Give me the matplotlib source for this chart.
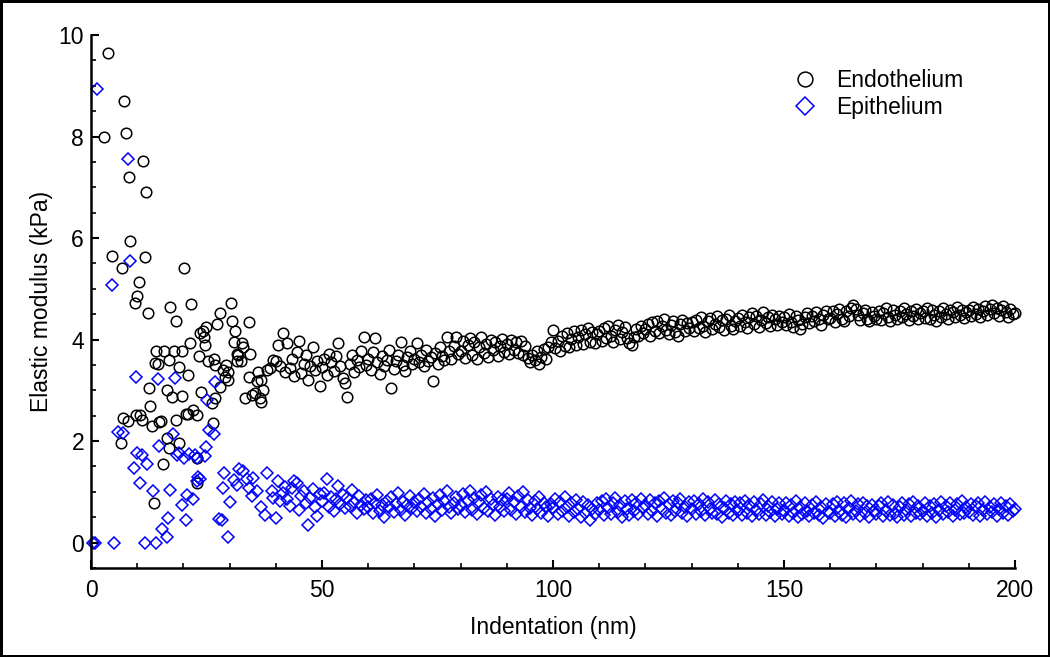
import numpy as np
import matplotlib
matplotlib.use("Agg")
import matplotlib.pyplot as plt
from matplotlib.ticker import MultipleLocator

# ---------------- data ----------------
# scattered low-indentation region, Endothelium (x nm, E kPa)
endo_x_low = [2.8, 3.7, 4.6, 6.4, 6.7, 6.9, 7.2, 7.6, 8.1, 8.2, 8.5, 9.5, 9.7, 10.0, 10.3,
              10.6, 11.0, 11.3, 11.6, 11.9, 12.3, 12.6, 12.8, 13.1, 13.6, 13.9, 14.1, 14.4,
              14.7, 15.1, 15.6, 15.8, 16.4, 16.4, 16.9, 16.9, 17.1, 17.5, 18.0, 18.3, 18.5,
              19.1, 19.1, 19.6, 19.8, 20.1, 20.6, 21.1, 21.1, 21.4, 21.6, 22.1, 22.9, 22.9,
              22.9, 23.3, 23.6, 23.8, 24.3, 24.5, 24.7, 24.9, 25.3, 26.1, 26.3, 26.7, 26.8,
              26.8, 27.3, 27.9, 27.9, 28.5, 28.9, 29.2, 29.7, 29.7, 30.3, 30.6, 31.0, 31.2,
              31.5, 31.7, 31.9, 32.5, 32.6, 33.0, 33.3, 34.1, 34.1, 34.4, 34.8, 35.5, 35.9,
              36.2, 36.6, 36.9, 36.9, 37.3, 38.0, 38.7, 39.5]
endo_y_low = [8.00, 9.65, 5.65, 1.97, 5.41, 2.45, 8.70, 8.07, 2.39, 7.20, 5.94, 4.73, 2.52, 4.85, 5.14,
              2.52, 2.41, 7.52, 5.63, 6.90, 4.53, 3.05, 2.70, 2.29, 0.78, 3.54, 3.77, 3.52,
              2.37, 2.39, 1.54, 3.77, 3.01, 2.06, 3.59, 1.86, 4.64, 2.87, 3.77, 4.37, 2.41,
              3.46, 1.97, 3.77, 2.88, 5.41, 2.54, 2.54, 3.31, 3.93, 4.70, 2.62, 2.52, 1.67,
              1.18, 3.67, 4.13, 2.97, 4.16, 4.06, 3.90, 4.24, 3.57, 2.76, 2.36, 3.62, 3.50,
              2.85, 4.31, 4.53, 3.06, 3.41, 3.27, 3.50, 3.37, 3.21, 4.73, 4.36, 3.96, 4.16,
              3.57, 3.72, 3.70, 3.57, 3.93, 3.86, 2.85, 4.34, 3.27, 3.72, 2.91, 2.95, 3.18,
              3.37, 2.85, 3.21, 2.78, 3.01, 3.41, 3.44, 3.60]

# scattered low-indentation region, Epithelium
epi_x_low = [0.4, 0.9, 1.4, 4.5, 5.0, 5.9, 6.9, 8.1, 8.4, 9.2, 9.7, 9.9, 10.6, 11.0, 11.7,
             12.2, 13.4, 14.1, 14.4, 14.8, 15.3, 16.4, 16.7, 17.1, 17.7, 18.2, 18.7, 19.1,
             19.6, 20.1, 20.6, 20.8, 21.3, 22.0, 22.5, 22.9, 23.0, 23.2, 23.7, 24.7, 24.9,
             25.0, 25.6, 26.7, 26.8, 27.8, 28.3, 28.5, 28.8, 29.7, 30.1, 31.0, 31.5, 32.1,
             33.0, 33.7, 34.3, 34.8, 35.1, 35.9, 36.9, 37.7, 38.2, 39.1, 39.3]
epi_y_low = [0.00, 0.00, 8.93, 5.07, 0.00, 2.17, 2.15, 7.55, 5.55, 1.47, 3.26, 1.77, 1.18, 1.73, 0.00,
             1.54, 1.01, 0.00, 3.22, 1.90, 0.27, 0.12, 0.49, 1.03, 2.13, 3.24, 1.73, 1.76,
             0.75, 1.67, 0.44, 0.94, 1.75, 0.86, 1.73, 1.21, 1.67, 1.29, 1.25, 1.70, 1.88,
             2.80, 2.21, 2.13, 3.16, 0.47, 0.44, 1.08, 1.38, 0.11, 0.81, 1.24, 1.14, 1.45,
             1.42, 1.25, 1.08, 0.91, 1.27, 1.01, 0.71, 0.55, 1.38, 1.01, 0.88]

# dense region: one reading every 0.5 nm from 40 nm to 200 nm
dense_start, dense_stop, dense_step = 40.0, 200.0, 0.5

endo_y_dense = [
    3.57, 3.90, 3.47, 4.13, 3.37, 3.93, 3.44, 3.62, 3.28, 3.75, 3.98, 3.35, 3.52, 3.70, 3.21, 3.48, 3.85, 3.40, 3.58, 3.08,
    3.45, 3.62, 3.30, 3.72, 3.55, 3.38, 3.68, 3.94, 3.48, 3.25, 3.14, 2.87, 3.52, 3.70, 3.36, 3.60, 3.45, 3.78, 4.06, 3.50,
    3.62, 3.40, 3.75, 4.03, 3.55, 3.32, 3.68, 3.48, 3.60, 3.80, 3.05, 3.42, 3.58, 3.70, 3.96, 3.50, 3.38, 3.65, 3.78, 3.52,
    3.62, 3.93, 3.55, 3.70, 3.48, 3.80, 3.58, 3.66, 3.19, 3.74, 3.52, 3.85, 3.68, 3.60, 4.06, 3.78, 3.62, 3.88, 4.05, 3.72,
    3.78, 3.98, 3.64, 3.90, 4.04, 3.70, 3.95, 3.62, 3.86, 4.06, 3.74, 3.92, 3.66, 4.00, 3.80, 3.96, 3.68, 3.88, 4.02, 3.76,
    3.92, 3.72, 4.00, 3.80, 3.96, 3.74, 3.98, 3.70, 3.88, 3.64, 3.56, 3.70, 3.60, 3.78, 3.52, 3.66, 3.82, 3.62, 3.86, 3.96,
    4.19, 3.84, 3.98, 3.78, 4.08, 3.88, 4.12, 3.86, 4.02, 4.16, 3.90, 4.06, 4.18, 3.92, 4.10, 4.22, 3.96, 4.14, 3.94, 4.10,
    4.16, 3.98, 4.22, 4.04, 4.26, 4.08, 3.96, 4.18, 4.28, 4.02, 4.14, 4.24, 4.04, 3.94, 3.90, 4.06, 4.20, 4.08, 4.26, 4.12,
    4.20, 4.30, 4.08, 4.34, 4.16, 4.36, 4.12, 4.26, 4.40, 4.18, 4.10, 4.28, 4.36, 4.14, 4.08, 4.30, 4.38, 4.16, 4.32, 4.22,
    4.34, 4.16, 4.38, 4.22, 4.44, 4.26, 4.14, 4.36, 4.42, 4.20, 4.30, 4.46, 4.24, 4.38, 4.18, 4.40, 4.48, 4.26, 4.20, 4.36,
    4.42, 4.26, 4.48, 4.34, 4.22, 4.44, 4.52, 4.30, 4.46, 4.24, 4.38, 4.54, 4.32, 4.44, 4.26, 4.48, 4.40, 4.28, 4.46, 4.34,
    4.44, 4.28, 4.50, 4.34, 4.24, 4.46, 4.38, 4.20, 4.30, 4.44, 4.52, 4.32, 4.46, 4.36, 4.54, 4.40, 4.28, 4.48, 4.56, 4.40,
    4.42, 4.56, 4.34, 4.50, 4.60, 4.40, 4.36, 4.56, 4.46, 4.62, 4.68, 4.60, 4.48, 4.38, 4.52, 4.58, 4.40, 4.36, 4.54, 4.46,
    4.40, 4.56, 4.38, 4.52, 4.62, 4.44, 4.36, 4.58, 4.48, 4.40, 4.56, 4.44, 4.62, 4.50, 4.38, 4.56, 4.46, 4.60, 4.40, 4.52,
    4.56, 4.42, 4.62, 4.40, 4.58, 4.48, 4.36, 4.56, 4.44, 4.62, 4.50, 4.40, 4.58, 4.54, 4.44, 4.64, 4.48, 4.58, 4.42, 4.54,
    4.58, 4.46, 4.64, 4.50, 4.60, 4.44, 4.56, 4.66, 4.48, 4.60, 4.68, 4.52, 4.62, 4.46, 4.58, 4.66, 4.54, 4.44, 4.60, 4.50,
    4.53]

epi_y_dense = [
    0.49, 1.21, 0.82, 0.98, 1.10, 0.85, 0.72, 1.08, 1.21, 1.18, 0.65, 0.92, 1.02, 0.78, 0.35, 0.88, 1.05, 0.70, 0.52, 0.95,
    0.82, 0.98, 1.25, 0.70, 0.90, 0.62, 0.86, 1.11, 0.76, 0.94, 0.68, 0.88, 0.72, 1.04, 0.80, 0.58, 0.92, 0.74, 0.66, 0.84,
    0.70, 0.86, 0.58, 0.78, 0.94, 0.62, 0.74, 0.50, 0.82, 0.70, 0.90, 0.60, 0.76, 0.98, 0.64, 0.80, 0.54, 0.74, 0.92, 0.68,
    0.80, 0.62, 0.86, 0.70, 0.96, 0.58, 0.80, 0.66, 0.88, 0.52, 0.76, 0.94, 0.64, 0.82, 1.02, 0.70, 0.58, 0.78, 0.90, 0.66,
    0.72, 0.96, 0.60, 0.84, 1.02, 0.64, 0.88, 0.56, 0.80, 0.94, 0.68, 1.00, 0.62, 0.86, 0.74, 0.54, 0.90, 0.70, 0.84, 0.62,
    0.86, 0.98, 0.64, 0.80, 0.56, 0.92, 0.70, 1.00, 0.60, 0.84, 0.68, 0.54, 0.82, 0.66, 0.90, 0.58, 0.78, 0.70, 0.52, 0.76,
    0.68, 0.86, 0.56, 0.80, 0.62, 0.90, 0.70, 0.52, 0.78, 0.60, 0.84, 0.66, 0.50, 0.80, 0.58, 0.74, 0.45, 0.66, 0.56, 0.78,
    0.64, 0.82, 0.54, 0.86, 0.68, 0.56, 0.78, 0.88, 0.60, 0.74, 0.50, 0.82, 0.66, 0.54, 0.84, 0.62, 0.78, 0.56, 0.86, 0.68,
    0.74, 0.56, 0.84, 0.62, 0.78, 0.52, 0.82, 0.66, 0.88, 0.58, 0.76, 0.54, 0.82, 0.62, 0.78, 0.86, 0.58, 0.70, 0.52, 0.80,
    0.66, 0.82, 0.56, 0.76, 0.62, 0.86, 0.54, 0.80, 0.66, 0.58, 0.84, 0.56, 0.76, 0.50, 0.68, 0.82, 0.58, 0.76, 0.54, 0.80,
    0.62, 0.78, 0.54, 0.82, 0.58, 0.74, 0.52, 0.80, 0.64, 0.56, 0.76, 0.84, 0.54, 0.72, 0.60, 0.80, 0.52, 0.66, 0.78, 0.56,
    0.62, 0.78, 0.52, 0.74, 0.58, 0.82, 0.50, 0.70, 0.56, 0.78, 0.62, 0.52, 0.74, 0.58, 0.80, 0.54, 0.70, 0.48, 0.76, 0.60,
    0.58, 0.76, 0.52, 0.80, 0.60, 0.54, 0.78, 0.50, 0.68, 0.82, 0.56, 0.62, 0.76, 0.52, 0.78, 0.58, 0.72, 0.50, 0.74, 0.62,
    0.56, 0.72, 0.78, 0.52, 0.62, 0.80, 0.54, 0.74, 0.58, 0.50, 0.70, 0.78, 0.54, 0.64, 0.76, 0.52, 0.80, 0.58, 0.72, 0.56,
    0.62, 0.78, 0.52, 0.72, 0.58, 0.76, 0.50, 0.64, 0.80, 0.56, 0.72, 0.60, 0.78, 0.52, 0.64, 0.76, 0.56, 0.82, 0.58, 0.70,
    0.60, 0.76, 0.54, 0.72, 0.78, 0.52, 0.64, 0.80, 0.56, 0.70, 0.60, 0.76, 0.52, 0.66, 0.78, 0.58, 0.72, 0.54, 0.76, 0.62,
    0.67]

series_labels = ["Endothelium", "Epithelium"]
x_label = "Indentation (nm)"
y_label = "Elastic modulus (kPa)"

# ---------------- assemble ----------------
dense_x = np.arange(dense_start, dense_stop + dense_step / 2, dense_step)
endo_x = np.concatenate([endo_x_low, dense_x])
endo_y = np.concatenate([endo_y_low, endo_y_dense])
epi_x = np.concatenate([epi_x_low, dense_x])
epi_y = np.concatenate([epi_y_low, epi_y_dense])

plt.rcParams['font.family'] = ['Liberation Sans', 'DejaVu Sans']
FS = 16.5

fig = plt.figure(figsize=(10.5, 6.57), dpi=100)
fig.patch.set_facecolor('white')
fig.patch.set_edgecolor('black')
fig.patch.set_linewidth(3.5)

ax = fig.add_axes([91 / 1050, 1 - 568 / 657, (1015 - 91) / 1050, (568 - 35) / 657])

ax.plot(endo_x, endo_y, linestyle='none', marker='o', markersize=7.6,
        markerfacecolor='none', markeredgecolor='black', markeredgewidth=1.1,
        label=series_labels[0], clip_on=False)
ax.plot(epi_x, epi_y, linestyle='none', marker='D', markersize=6.4,
        markerfacecolor='none', markeredgecolor='#0000FF', markeredgewidth=1.1,
        label=series_labels[1], clip_on=False)

ax.set_xlim(0, 200)
ax.set_ylim(-0.5, 10)
ax.xaxis.set_major_locator(MultipleLocator(50))
ax.xaxis.set_minor_locator(MultipleLocator(10))
ax.yaxis.set_major_locator(MultipleLocator(2))
ax.yaxis.set_minor_locator(MultipleLocator(0.5))
ax.set_yticks([0, 2, 4, 6, 8, 10])

for side in ['top', 'right']:
    ax.spines[side].set_visible(False)
for side in ['left', 'bottom']:
    ax.spines[side].set_linewidth(1.8)

ax.tick_params(which='major', direction='in', length=6, width=1.5,
               labelsize=FS, pad=5)
ax.tick_params(which='minor', direction='in', length=3.5, width=1.2)
ax.tick_params(axis='x', which='major', pad=8)

ax.set_xlabel(x_label, fontsize=FS, labelpad=10)
ax.set_ylabel(y_label, fontsize=FS, labelpad=4)

leg = ax.legend(loc='upper left', bbox_to_anchor=(0.760, 0.936), frameon=False,
                fontsize=FS, handlelength=1.0, handletextpad=0.85, markerscale=1.4,
                labelspacing=0.16, borderpad=0, borderaxespad=0)

fig.savefig("out.png", dpi=100, facecolor=fig.get_facecolor(),
            edgecolor=fig.get_edgecolor())
